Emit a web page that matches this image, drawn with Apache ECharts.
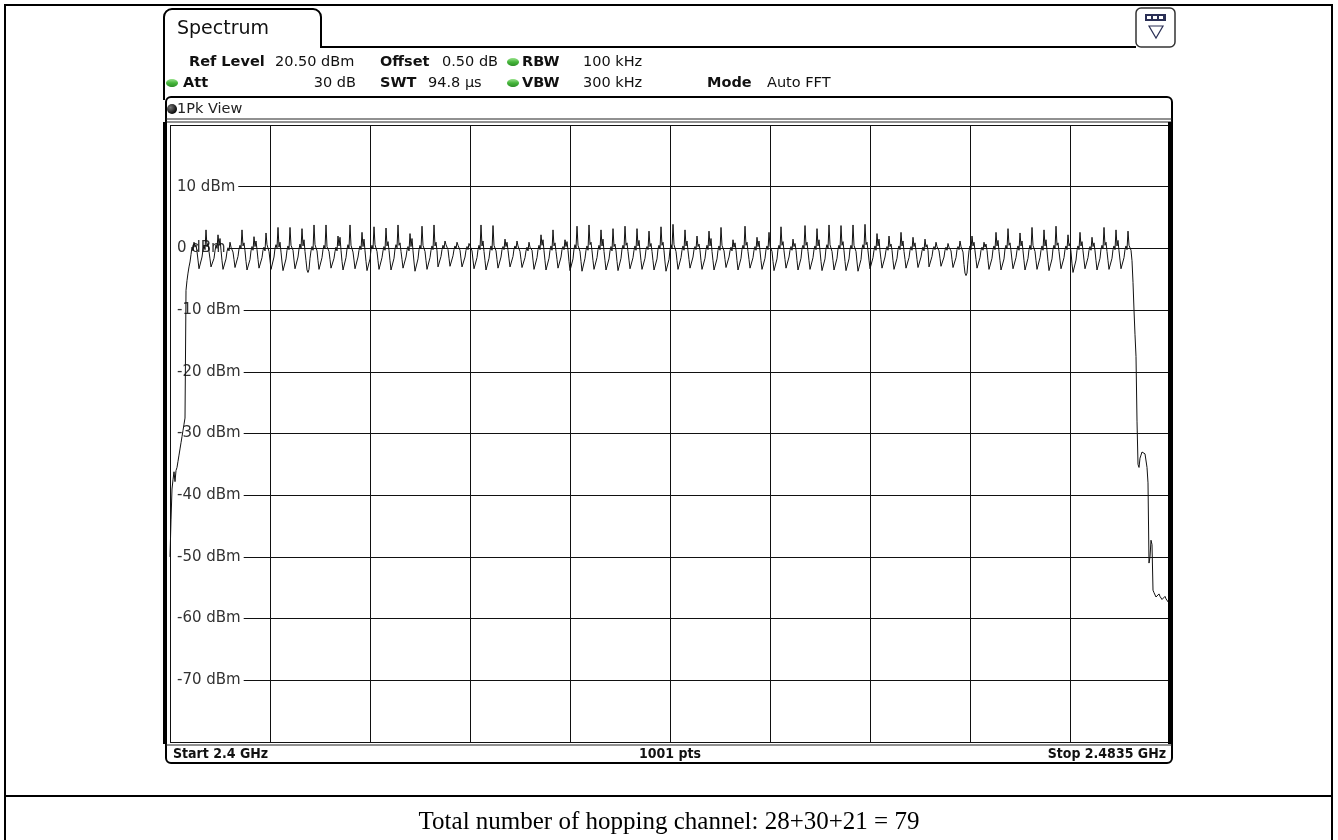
<!DOCTYPE html>
<html>
<head>
<meta charset="utf-8">
<title>Spectrum</title>
<script src="https://cdn.jsdelivr.net/npm/echarts@6.0.0/dist/echarts.min.js"></script>
<style>
  html, body { margin: 0; padding: 0; background: #fff; }
  #chart { width: 1338px; height: 840px; }
</style>
</head>
<body>
<div id="chart"></div>
<script>
// Sweep: 1001 points across 2.4 GHz .. 2.4835 GHz, one level (dBm) per point
const sweepPoints = 1001;
const levelTicks = [-80, -70, -60, -50, -40, -30, -20, -10, 0, 10, 20];

// points 0..15: skirt below the first channel
const lowerSkirt = [-50, -44, -39, -37.5, -36.2, -37.8, -36, -35.5, -34.5, -33.5, -32.5, -31.5, -30.5, -29.5, -28.5, -27.5];

// points 16..961: peak-hold levels over the 79 hopping channels, one row per channel
const channelLevels = [
  -6.8, -5.2, -4.0, -3.0, -2.2, -1.0, 0.2, -0.4, 1.0, 0.2, 0.6, -0.5,
  -1.9, -3.3, -3.6, -3.2, -1.4, -0.2, 0.5, -0.2, 3.0, 0.3, 0.8, -0.5,
  -1.7, -3.0, -3.3, -3.0, -1.6, -0.4, 0.6, 0.0, 2.2, 0.5, 1.6, -0.3,
  -2.0, -3.4, -3.7, -3.3, -1.7, -0.5, 0.1, -0.4, 1.0, 0.2, 0.4, -0.6,
  -1.8, -3.1, -3.4, -3.0, -1.3, -0.1, 0.5, 0.0, 3.0, 0.4, 0.9, -0.4,
  -2.1, -3.5, -3.8, -3.4, -1.8, -0.4, 0.3, -0.3, 1.9, 0.3, 1.2, -0.2,
  -1.8, -3.2, -3.5, -3.1, -1.5, -0.3, 0.2, -0.4, 2.5, 0.6, 0.5, -0.5,
  -1.9, -3.4, -3.7, -3.3, -1.4, 0.0, 0.6, 0.1, 3.4, 0.2, 1.0, -0.6,
  -2.2, -3.6, -3.9, -3.5, -1.7, -0.3, 0.4, -0.2, 3.4, 0.5, 0.7, -0.3,
  -1.9, -3.3, -3.5, -3.2, -1.4, -0.1, 0.7, 0.0, 3.2, 0.4, 1.4, -0.5,
  -2.0, -3.5, -3.9, -3.4, -1.6, -0.4, 0.3, -0.3, 3.8, 0.6, 0.9, -0.4,
  -2.0, -3.4, -3.7, -3.3, -1.5, -0.2, 0.5, 0.0, 3.8, 0.3, 0.6, -0.5,
  -1.8, -3.2, -3.4, -3.0, -1.6, -0.5, 0.2, -0.4, 2.0, 0.4, 1.8, -0.3,
  -2.1, -3.5, -3.8, -3.4, -1.5, -0.1, 0.6, 0.0, 3.8, 0.5, 0.8, -0.6,
  -1.9, -3.3, -3.6, -3.2, -1.4, -0.3, 0.4, -0.2, 2.6, 0.3, 1.5, -0.4,
  -2.1, -3.6, -3.8, -3.3, -1.7, -0.2, 0.5, -0.1, 3.5, 0.6, 0.7, -0.5,
  -2.0, -3.4, -3.7, -3.4, -1.5, -0.4, 0.3, -0.3, 3.3, 0.4, 1.1, -0.3,
  -2.0, -3.5, -3.8, -3.4, -1.6, -0.1, 0.6, 0.1, 3.8, 0.5, 0.9, -0.5,
  -1.8, -3.2, -3.5, -3.1, -1.4, -0.3, 0.3, -0.4, 2.4, 0.3, 1.6, -0.4,
  -2.2, -3.7, -3.9, -3.5, -1.7, -0.2, 0.5, -0.1, 3.6, 0.5, 0.8, -0.5,
  -2.0, -3.4, -3.6, -3.3, -1.5, -0.3, 0.4, -0.2, 3.8, 0.4, 1.0, -0.4,
  -3.0, -3.3, -3.0, -1.3, -0.2, 0.5, 0.0, 1.2, 0.6, 0.9, -0.2,
  -1.6, -2.9, -3.1, -2.8, -1.2, -0.2, 0.4, -0.1, 1.0, 0.5, 0.7, -0.3,
  -1.7, -3.0, -3.2, -2.9, -1.4, -0.3, 0.3, -0.2, 0.8, 0.4, 0.6, -0.4,
  -1.9, -3.3, -3.6, -3.2, -1.5, -0.2, 0.5, -0.2, 3.8, 0.4, 1.2, -0.5,
  -2.0, -3.5, -3.8, -3.4, -1.6, -0.3, 0.4, -0.3, 3.7, 0.5, 0.8, -0.4,
  -1.8, -3.2, -3.5, -3.1, -1.4, -0.2, 0.3, -0.2, 1.5, 0.3, 1.0, -0.3,
  -1.7, -3.0, -3.3, -3.0, -1.3, -0.1, 0.4, -0.1, 1.2, 0.4, 0.6, -0.5,
  -1.8, -3.1, -3.4, -3.1, -1.5, -0.4, 0.2, -0.4, 1.0, 0.2, 0.5, -0.3,
  -1.9, -3.4, -3.7, -3.3, -1.5, -0.2, 0.5, -0.2, 2.2, 0.5, 1.4, -0.4,
  -2.0, -3.5, -3.8, -3.4, -1.6, -0.3, 0.4, -0.3, 3.0, 0.4, 0.9, -0.5,
  -1.8, -3.2, -3.5, -3.1, -1.4, -0.2, 0.3, -0.2, 1.4, 0.3, 1.1, -0.3,
  -2.1, -3.6, -3.9, -3.5, -1.7, -0.1, 0.6, 0.0, 3.6, 0.5, 0.8, -0.5,
  -2.1, -3.7, -3.8, -3.4, -1.6, -0.3, 0.4, -0.3, 3.8, 0.6, 1.0, -0.4,
  -2.0, -3.4, -3.7, -3.3, -1.5, -0.2, 0.5, -0.2, 3.0, 0.4, 1.5, -0.5,
  -2.0, -3.5, -3.8, -3.4, -1.7, -0.4, 0.3, -0.4, 3.2, 0.3, 0.7, -0.4,
  -2.1, -3.6, -3.9, -3.5, -1.6, -0.1, 0.5, -0.1, 3.6, 0.5, 0.9, -0.5,
  -1.9, -3.3, -3.6, -3.2, -1.5, -0.3, 0.4, -0.3, 3.2, 0.4, 1.3, -0.4,
  -2.0, -3.4, -3.7, -3.3, -1.6, -0.2, 0.3, -0.2, 2.8, 0.3, 0.8, -0.5,
  -2.0, -3.5, -3.8, -3.4, -1.7, -0.1, 0.5, -0.1, 3.5, 0.5, 1.0, -0.4,
  -2.2, -3.7, -4.0, -3.6, -1.8, -0.2, 0.6, 0.0, 3.9, 0.6, 0.9, -0.5,
  -2.0, -3.4, -3.7, -3.3, -1.5, -0.3, 0.4, -0.3, 3.0, 0.4, 1.2, -0.4,
  -1.8, -3.2, -3.5, -3.1, -1.4, -0.2, 0.3, -0.2, 2.0, 0.3, 0.7, -0.3,
  -2.0, -3.4, -3.7, -3.3, -1.6, -0.2, 0.5, -0.2, 2.8, 0.4, 1.6, -0.5,
  -2.0, -3.5, -3.8, -3.4, -1.7, -0.3, 0.4, -0.3, 3.4, 0.5, 0.8, -0.4,
  -1.8, -3.1, -3.4, -3.1, -1.4, -0.4, 0.2, -0.4, 1.4, 0.2, 0.9, -0.3,
  -2.0, -3.5, -3.8, -3.4, -1.6, -0.1, 0.5, -0.1, 3.6, 0.5, 1.0, -0.5,
  -1.8, -3.2, -3.5, -3.1, -1.5, -0.3, 0.3, -0.3, 1.8, 0.3, 1.2, -0.4,
  -2.0, -3.4, -3.7, -3.3, -1.6, -0.2, 0.4, -0.2, 2.6, 0.4, 0.7, -0.5,
  -2.1, -3.6, -3.9, -3.5, -1.7, -0.1, 0.5, -0.1, 3.5, 0.5, 1.1, -0.4,
  -1.8, -3.2, -3.5, -3.1, -1.4, -0.3, 0.3, -0.3, 1.5, 0.3, 0.8, -0.3,
  -2.0, -3.5, -3.8, -3.4, -1.6, 0.0, 0.5, 0.0, 3.7, 0.5, 1.0, -0.5,
  -2.0, -3.4, -3.7, -3.3, -1.5, -0.2, 0.4, -0.2, 3.2, 0.4, 1.4, -0.4,
  -2.1, -3.6, -3.9, -3.5, -1.7, 0.0, 0.6, 0.0, 3.8, 0.6, 0.9, -0.5,
  -2.0, -3.5, -3.8, -3.4, -1.6, -0.1, 0.5, -0.1, 3.7, 0.5, 1.1, -0.4,
  -2.1, -3.6, -3.9, -3.5, -1.7, -0.1, 0.5, -0.1, 3.8, 0.5, 0.8, -0.5,
  -2.2, -3.7, -4.0, -3.6, -1.8, 0.0, 0.6, 0.0, 3.9, 0.6, 1.0, -0.4,
  -1.9, -3.3, -3.6, -3.2, -1.5, -0.3, 0.4, -0.3, 2.4, 0.4, 1.5, -0.4,
  -1.8, -3.2, -3.5, -3.1, -1.4, -0.3, 0.3, -0.3, 2.0, 0.3, 0.7, -0.3,
  -2.0, -3.4, -3.7, -3.3, -1.6, -0.2, 0.4, -0.2, 2.6, 0.4, 1.2, -0.5,
  -1.8, -3.2, -3.5, -3.1, -1.5, -0.3, 0.3, -0.3, 1.8, 0.3, 0.9, -0.4,
  -1.8, -3.1, -3.4, -3.0, -1.4, -0.4, 0.2, -0.4, 1.5, 0.2, 0.6, -0.3,
  -3.0, -3.2, -2.9, -1.3, -0.2, 0.3, -0.2, 1.0, 0.3, 0.6, -0.4,
  -1.6, -2.9, -3.1, -2.8, -1.4, -0.3, 0.2, -0.3, 0.8, 0.2, 0.5, -0.4,
  -1.8, -3.1, -3.3, -3.0, -1.5, -0.2, 0.3, -0.2, 1.2, 0.3, 0.4, -0.6,
  -2.6, -4.0, -4.4, -4.0, -2.0, -0.4, 0.4, -0.2, 2.0, 0.4, 1.0, -0.4,
  -1.8, -3.2, -3.4, -3.1, -1.5, -0.3, 0.2, -0.3, 1.0, 0.2, 0.7, -0.3,
  -2.0, -3.4, -3.6, -3.3, -1.6, -0.2, 0.4, -0.2, 2.6, 0.4, 1.3, -0.5,
  -2.0, -3.5, -3.7, -3.4, -1.7, -0.1, 0.5, -0.1, 3.2, 0.5, 0.9, -0.4,
  -1.9, -3.3, -3.5, -3.2, -1.5, -0.3, 0.4, -0.3, 2.5, 0.4, 1.2, -0.4,
  -2.0, -3.5, -3.7, -3.4, -1.6, -0.2, 0.5, -0.2, 3.4, 0.5, 0.8, -0.5,
  -2.0, -3.4, -3.6, -3.3, -1.5, -0.3, 0.4, -0.3, 3.0, 0.4, 1.4, -0.4,
  -2.1, -3.6, -3.8, -3.5, -1.7, -0.1, 0.5, -0.1, 3.6, 0.5, 0.9, -0.5,
  -1.9, -3.3, -3.5, -3.2, -1.5, -0.2, 0.4, -0.2, 2.2, 0.4, 0.8, -0.6,
  -2.5, -3.9, -4.2, -3.8, -1.9, -0.3, 0.4, -0.2, 2.6, 0.4, 1.1, -0.4,
  -1.9, -3.3, -3.5, -3.2, -1.5, -0.3, 0.3, -0.3, 1.8, 0.3, 0.9, -0.4,
  -2.0, -3.5, -3.7, -3.4, -1.6, -0.1, 0.5, -0.1, 3.4, 0.5, 1.0, -0.5,
  -2.0, -3.4, -3.6, -3.3, -1.6, -0.2, 0.4, -0.2, 3.0, 0.4, 1.3, -0.4,
  -1.9, -3.3, -3.5, -3.2, -1.5, -0.2, 0.4, -0.2, 2.8, 0.5, 0.8, -0.3
];

// points 962..1000: roll-off above the last channel
const upperSkirt = [
  -2, -5.5, -10, -14, -17.5, -28, -35, -35.5, -34, -33.5, -33, -33.2, -33.2, -33.3, -33.5, -35.5, -38, -51, -50, -47.3,
  -48, -55.4, -55.8, -56, -56.5, -56.8, -56.3, -56, -56.4, -56.5, -56.9, -57, -56.6, -56.4, -56.8, -57, -56.5, -57.5, -60
];

// Instrument header settings
const headerRow1 = [
  { t: 'Ref Level', x: 189, bold: true }, { t: '20.50 dBm', x: 275 },
  { t: 'Offset', x: 380, bold: true }, { t: '0.50 dB', x: 442 },
  { t: 'RBW', x: 522, bold: true }, { t: '100 kHz', x: 583 }
];
const headerRow2 = [
  { t: 'Att', x: 183, bold: true }, { t: '30 dB', x: 356, align: 'right' },
  { t: 'SWT', x: 380, bold: true }, { t: '94.8 µs', x: 428 },
  { t: 'VBW', x: 522, bold: true }, { t: '300 kHz', x: 583 },
  { t: 'Mode', x: 707, bold: true }, { t: 'Auto FFT', x: 767 }
];
const footer = { start: 'Start 2.4 GHz', pts: sweepPoints + ' pts', stop: 'Stop 2.4835 GHz' };
const caption = 'Total number of hopping channel: 28+30+21 = 79';

const FONT = 'DejaVu Sans';
const levels = lowerSkirt.concat(channelLevels, upperSkirt);
const trace = levels.map((v, i) => [i, v]);
const chart = echarts.init(document.getElementById('chart'), null, { renderer: 'canvas' });

function headerText(items, y) {
  return items.map(it => ({
    type: 'text', x: it.x, y: y, z: 10,
    style: {
      text: it.t, fill: '#111', font: (it.bold ? 'bold ' : '') + '14.5px "' + FONT + '"',
      textAlign: it.align || 'left', textVerticalAlign: 'middle'
    }
  }));
}
function greenDot(cx, cy) {
  return {
    type: 'ellipse', z: 10,
    shape: { cx: cx, cy: cy, rx: 6, ry: 4 },
    style: {
      fill: new echarts.graphic.LinearGradient(0, 0, 0, 1, [
        { offset: 0, color: '#9be38f' }, { offset: 0.5, color: '#45b53a' }, { offset: 1, color: '#2f8f2a' }
      ])
    }
  };
}

const graphics = [
  // document table
  { type: 'rect', z: 1, shape: { x: 5, y: 5, width: 1327, height: 840 }, style: { fill: 'none', stroke: '#000', lineWidth: 2 } },
  { type: 'line', z: 1, shape: { x1: 5, y1: 796, x2: 1332, y2: 796 }, style: { stroke: '#000', lineWidth: 2 } },
  // tab
  { type: 'rect', z: 3, shape: { x: 164, y: 9, width: 157, height: 60, r: [8, 8, 0, 0] }, style: { fill: '#fff', stroke: '#000', lineWidth: 2 } },
  { type: 'rect', z: 4, shape: { x: 165, y: 48, width: 160, height: 30 }, style: { fill: '#fff' } },
  { type: 'line', z: 4, shape: { x1: 164, y1: 40, x2: 164, y2: 100 }, style: { stroke: '#000', lineWidth: 2 } },
  { type: 'line', z: 4, shape: { x1: 320, y1: 47, x2: 1136, y2: 47 }, style: { stroke: '#000', lineWidth: 2 } },
  { type: 'text', z: 5, x: 177, y: 29, style: { text: 'Spectrum', fill: '#111', font: '19px "' + FONT + '"', textVerticalAlign: 'middle' } },
  // display-config icon
  { type: 'rect', z: 5, shape: { x: 1136, y: 8, width: 39, height: 39, r: 5 }, style: { fill: '#fff', stroke: '#333', lineWidth: 1.5 } },
  { type: 'rect', z: 6, shape: { x: 1145, y: 14, width: 21, height: 7 }, style: { fill: '#2a2f55' } },
  { type: 'rect', z: 7, shape: { x: 1147, y: 16, width: 4, height: 3 }, style: { fill: '#fff' } },
  { type: 'rect', z: 7, shape: { x: 1153, y: 16, width: 4, height: 3 }, style: { fill: '#fff' } },
  { type: 'rect', z: 7, shape: { x: 1159, y: 16, width: 4, height: 3 }, style: { fill: '#fff' } },
  { type: 'polygon', z: 6, shape: { points: [[1149, 26], [1163, 26], [1156, 38]] }, style: { fill: '#fff', stroke: '#2a2f55', lineWidth: 1.2 } },
  // status dots
  greenDot(513, 62), greenDot(172, 83), greenDot(513, 83),
  // view frame
  { type: 'rect', z: 3, shape: { x: 166, y: 97, width: 1006, height: 666, r: 5 }, style: { fill: 'none', stroke: '#000', lineWidth: 2 } },
  { type: 'line', z: 3, shape: { x1: 166, y1: 119, x2: 1172, y2: 119 }, style: { stroke: '#222', lineWidth: 1 } },
  { type: 'line', z: 3, shape: { x1: 166, y1: 122, x2: 1172, y2: 122 }, style: { stroke: '#222', lineWidth: 1 } },
  { type: 'circle', z: 5, shape: { cx: 172, cy: 109, r: 5 }, style: { fill: new echarts.graphic.RadialGradient(0.35, 0.35, 0.7, [{ offset: 0, color: '#777' }, { offset: 1, color: '#000' }]) } },
  { type: 'text', z: 5, x: 177, y: 109, style: { text: '1Pk View', fill: '#222', font: '14.5px "' + FONT + '"', textVerticalAlign: 'middle' } },
  { type: 'rect', z: 5, shape: { x: 163, y: 122, width: 4, height: 622 }, style: { fill: '#000' } },
  { type: 'rect', z: 5, shape: { x: 1168, y: 122, width: 4, height: 622 }, style: { fill: '#000' } },
  { type: 'line', z: 5, shape: { x1: 166, y1: 745, x2: 1172, y2: 745 }, style: { stroke: '#222', lineWidth: 1 } },
  // footer
  { type: 'text', z: 5, x: 173, y: 754, style: { text: footer.start, fill: '#111', font: 'bold 14px "DejaVu Sans Condensed"', textVerticalAlign: 'middle' } },
  { type: 'text', z: 5, x: 670, y: 754, style: { text: footer.pts, fill: '#111', font: 'bold 14px "DejaVu Sans Condensed"', textAlign: 'center', textVerticalAlign: 'middle' } },
  { type: 'text', z: 5, x: 1166, y: 754, style: { text: footer.stop, fill: '#111', font: 'bold 14px "DejaVu Sans Condensed"', textAlign: 'right', textVerticalAlign: 'middle' } },
  // caption
  { type: 'text', z: 5, x: 669, y: 822, style: { text: caption, fill: '#000', font: '25px "Liberation Serif"', textAlign: 'center', textVerticalAlign: 'middle' } }
].concat(headerText(headerRow1, 62), headerText(headerRow2, 83));

chart.setOption({
  animation: false,
  backgroundColor: '#fff',
  grid: { left: 170, top: 125, width: 1000, height: 617, show: false },
  xAxis: {
    type: 'value', min: 0, max: sweepPoints - 1, interval: 100,
    axisLine: { show: false }, axisTick: { show: false }, axisLabel: { show: false },
    splitLine: { show: true, lineStyle: { color: '#111', width: 1 } }
  },
  yAxis: {
    type: 'value', min: levelTicks[0], max: levelTicks[levelTicks.length - 1], interval: 10,
    axisLine: { show: false }, axisTick: { show: false },
    axisLabel: {
      inside: true, margin: 1, color: '#333', fontFamily: FONT, fontSize: 15,
      showMinLabel: false, showMaxLabel: false,
      backgroundColor: '#fff', padding: [0, 3, 0, 6],
      formatter: v => v + ' dBm'
    },
    splitLine: { show: true, lineStyle: { color: '#111', width: 1 } }
  },
  series: [{
    type: 'line', data: trace, showSymbol: false, z: 3,
    lineStyle: { color: '#111', width: 1 }
  }],
  graphic: graphics
});
</script>
</body>
</html>
